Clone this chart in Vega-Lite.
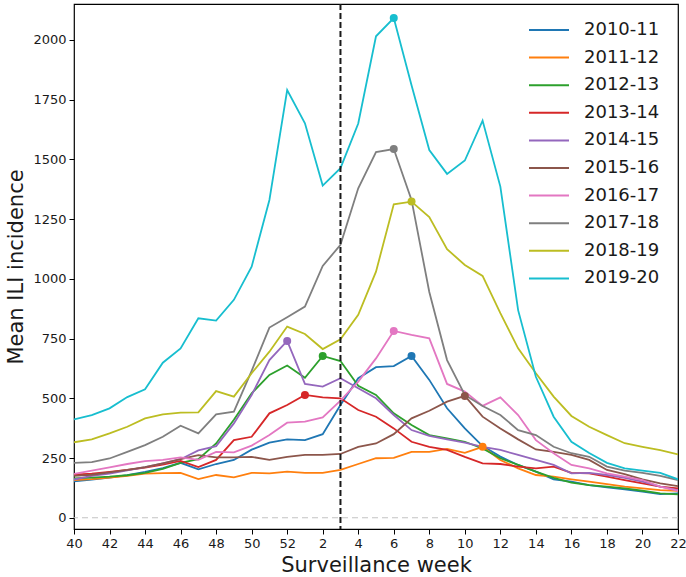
{
  "$schema": "https://vega.github.io/schema/vega-lite/v6.json",
  "width": 604,
  "height": 525,
  "autosize": {"type": "none"},
  "padding": {"left": 74, "top": 4, "right": 8, "bottom": 48},
  "background": "white",
  "config": {
    "font": "DejaVu Sans",
    "view": {"stroke": "black", "strokeWidth": 1.2},
    "axis": {"grid": false, "domain": false, "tickColor": "black", "tickSize": 5, "tickWidth": 1, "labelColor": "#1a1a1a", "labelFontSize": 13, "labelFont": "DejaVu Sans", "titleFont": "DejaVu Sans", "titleFontSize": 21, "titleFontWeight": "normal", "titleColor": "#1a1a1a", "labelPadding": 3, "labelOverlap": false, "labelFlush": false}
  },
  "datasets": {
    "ili": [
      {"s":"2010-11","t":0,"v":152},{"s":"2010-11","t":1,"v":160},{"s":"2010-11","t":2,"v":168},{"s":"2010-11","t":3,"v":178},{"s":"2010-11","t":4,"v":192},{"s":"2010-11","t":5,"v":208},{"s":"2010-11","t":6,"v":230},{"s":"2010-11","t":7,"v":203},{"s":"2010-11","t":8,"v":225},{"s":"2010-11","t":9,"v":242},{"s":"2010-11","t":10,"v":285},{"s":"2010-11","t":11,"v":314},{"s":"2010-11","t":12,"v":328},{"s":"2010-11","t":13,"v":325},{"s":"2010-11","t":14,"v":350},{"s":"2010-11","t":15,"v":472},{"s":"2010-11","t":16,"v":584},{"s":"2010-11","t":17,"v":630},{"s":"2010-11","t":18,"v":635},{"s":"2010-11","t":19,"v":677},{"s":"2010-11","t":20,"v":577},{"s":"2010-11","t":21,"v":458},{"s":"2010-11","t":22,"v":374},{"s":"2010-11","t":23,"v":300},{"s":"2010-11","t":24,"v":256},{"s":"2010-11","t":25,"v":221},{"s":"2010-11","t":26,"v":193},{"s":"2010-11","t":27,"v":161},{"s":"2010-11","t":28,"v":151},{"s":"2010-11","t":29,"v":137},{"s":"2010-11","t":30,"v":127},{"s":"2010-11","t":31,"v":119},{"s":"2010-11","t":32,"v":109},{"s":"2010-11","t":33,"v":99},{"s":"2010-11","t":34,"v":102},
      {"s":"2011-12","t":0,"v":158},{"s":"2011-12","t":1,"v":162},{"s":"2011-12","t":2,"v":168},{"s":"2011-12","t":3,"v":175},{"s":"2011-12","t":4,"v":185},{"s":"2011-12","t":5,"v":187},{"s":"2011-12","t":6,"v":188},{"s":"2011-12","t":7,"v":162},{"s":"2011-12","t":8,"v":179},{"s":"2011-12","t":9,"v":169},{"s":"2011-12","t":10,"v":188},{"s":"2011-12","t":11,"v":186},{"s":"2011-12","t":12,"v":193},{"s":"2011-12","t":13,"v":188},{"s":"2011-12","t":14,"v":188},{"s":"2011-12","t":15,"v":200},{"s":"2011-12","t":16,"v":225},{"s":"2011-12","t":17,"v":249},{"s":"2011-12","t":18,"v":251},{"s":"2011-12","t":19,"v":276},{"s":"2011-12","t":20,"v":276},{"s":"2011-12","t":21,"v":288},{"s":"2011-12","t":22,"v":272},{"s":"2011-12","t":23,"v":297},{"s":"2011-12","t":24,"v":242},{"s":"2011-12","t":25,"v":207},{"s":"2011-12","t":26,"v":179},{"s":"2011-12","t":27,"v":172},{"s":"2011-12","t":28,"v":161},{"s":"2011-12","t":29,"v":151},{"s":"2011-12","t":30,"v":141},{"s":"2011-12","t":31,"v":130},{"s":"2011-12","t":32,"v":123},{"s":"2011-12","t":33,"v":116},{"s":"2011-12","t":34,"v":113},
      {"s":"2012-13","t":0,"v":165},{"s":"2012-13","t":1,"v":168},{"s":"2012-13","t":2,"v":172},{"s":"2012-13","t":3,"v":178},{"s":"2012-13","t":4,"v":188},{"s":"2012-13","t":5,"v":205},{"s":"2012-13","t":6,"v":230},{"s":"2012-13","t":7,"v":245},{"s":"2012-13","t":8,"v":311},{"s":"2012-13","t":9,"v":410},{"s":"2012-13","t":10,"v":521},{"s":"2012-13","t":11,"v":598},{"s":"2012-13","t":12,"v":637},{"s":"2012-13","t":13,"v":586},{"s":"2012-13","t":14,"v":677},{"s":"2012-13","t":15,"v":656},{"s":"2012-13","t":16,"v":552},{"s":"2012-13","t":17,"v":514},{"s":"2012-13","t":18,"v":437},{"s":"2012-13","t":19,"v":388},{"s":"2012-13","t":20,"v":346},{"s":"2012-13","t":21,"v":332},{"s":"2012-13","t":22,"v":318},{"s":"2012-13","t":23,"v":290},{"s":"2012-13","t":24,"v":249},{"s":"2012-13","t":25,"v":221},{"s":"2012-13","t":26,"v":193},{"s":"2012-13","t":27,"v":167},{"s":"2012-13","t":28,"v":147},{"s":"2012-13","t":29,"v":137},{"s":"2012-13","t":30,"v":130},{"s":"2012-13","t":31,"v":123},{"s":"2012-13","t":32,"v":113},{"s":"2012-13","t":33,"v":102},{"s":"2012-13","t":34,"v":98},
      {"s":"2013-14","t":0,"v":180},{"s":"2013-14","t":1,"v":185},{"s":"2013-14","t":2,"v":192},{"s":"2013-14","t":3,"v":200},{"s":"2013-14","t":4,"v":210},{"s":"2013-14","t":5,"v":222},{"s":"2013-14","t":6,"v":238},{"s":"2013-14","t":7,"v":212},{"s":"2013-14","t":8,"v":242},{"s":"2013-14","t":9,"v":325},{"s":"2013-14","t":10,"v":339},{"s":"2013-14","t":11,"v":437},{"s":"2013-14","t":12,"v":472},{"s":"2013-14","t":13,"v":514},{"s":"2013-14","t":14,"v":504},{"s":"2013-14","t":15,"v":500},{"s":"2013-14","t":16,"v":451},{"s":"2013-14","t":17,"v":423},{"s":"2013-14","t":18,"v":374},{"s":"2013-14","t":19,"v":318},{"s":"2013-14","t":20,"v":297},{"s":"2013-14","t":21,"v":284},{"s":"2013-14","t":22,"v":255},{"s":"2013-14","t":23,"v":228},{"s":"2013-14","t":24,"v":225},{"s":"2013-14","t":25,"v":214},{"s":"2013-14","t":26,"v":207},{"s":"2013-14","t":27,"v":214},{"s":"2013-14","t":28,"v":188},{"s":"2013-14","t":29,"v":186},{"s":"2013-14","t":30,"v":172},{"s":"2013-14","t":31,"v":158},{"s":"2013-14","t":32,"v":144},{"s":"2013-14","t":33,"v":130},{"s":"2013-14","t":34,"v":123},
      {"s":"2014-15","t":0,"v":160},{"s":"2014-15","t":1,"v":175},{"s":"2014-15","t":2,"v":185},{"s":"2014-15","t":3,"v":198},{"s":"2014-15","t":4,"v":212},{"s":"2014-15","t":5,"v":228},{"s":"2014-15","t":6,"v":245},{"s":"2014-15","t":7,"v":282},{"s":"2014-15","t":8,"v":300},{"s":"2014-15","t":9,"v":395},{"s":"2014-15","t":10,"v":514},{"s":"2014-15","t":11,"v":660},{"s":"2014-15","t":12,"v":740},{"s":"2014-15","t":13,"v":560},{"s":"2014-15","t":14,"v":549},{"s":"2014-15","t":15,"v":584},{"s":"2014-15","t":16,"v":542},{"s":"2014-15","t":17,"v":500},{"s":"2014-15","t":18,"v":430},{"s":"2014-15","t":19,"v":367},{"s":"2014-15","t":20,"v":343},{"s":"2014-15","t":21,"v":328},{"s":"2014-15","t":22,"v":314},{"s":"2014-15","t":23,"v":297},{"s":"2014-15","t":24,"v":284},{"s":"2014-15","t":25,"v":263},{"s":"2014-15","t":26,"v":242},{"s":"2014-15","t":27,"v":221},{"s":"2014-15","t":28,"v":186},{"s":"2014-15","t":29,"v":188},{"s":"2014-15","t":30,"v":179},{"s":"2014-15","t":31,"v":167},{"s":"2014-15","t":32,"v":151},{"s":"2014-15","t":33,"v":130},{"s":"2014-15","t":34,"v":116},
      {"s":"2015-16","t":0,"v":175},{"s":"2015-16","t":1,"v":180},{"s":"2015-16","t":2,"v":190},{"s":"2015-16","t":3,"v":200},{"s":"2015-16","t":4,"v":212},{"s":"2015-16","t":5,"v":228},{"s":"2015-16","t":6,"v":245},{"s":"2015-16","t":7,"v":262},{"s":"2015-16","t":8,"v":253},{"s":"2015-16","t":9,"v":253},{"s":"2015-16","t":10,"v":255},{"s":"2015-16","t":11,"v":242},{"s":"2015-16","t":12,"v":255},{"s":"2015-16","t":13,"v":263},{"s":"2015-16","t":14,"v":263},{"s":"2015-16","t":15,"v":267},{"s":"2015-16","t":16,"v":297},{"s":"2015-16","t":17,"v":311},{"s":"2015-16","t":18,"v":350},{"s":"2015-16","t":19,"v":416},{"s":"2015-16","t":20,"v":448},{"s":"2015-16","t":21,"v":486},{"s":"2015-16","t":22,"v":510},{"s":"2015-16","t":23,"v":423},{"s":"2015-16","t":24,"v":374},{"s":"2015-16","t":25,"v":328},{"s":"2015-16","t":26,"v":286},{"s":"2015-16","t":27,"v":276},{"s":"2015-16","t":28,"v":263},{"s":"2015-16","t":29,"v":242},{"s":"2015-16","t":30,"v":200},{"s":"2015-16","t":31,"v":183},{"s":"2015-16","t":32,"v":161},{"s":"2015-16","t":33,"v":144},{"s":"2015-16","t":34,"v":132},
      {"s":"2016-17","t":0,"v":184},{"s":"2016-17","t":1,"v":197},{"s":"2016-17","t":2,"v":211},{"s":"2016-17","t":3,"v":225},{"s":"2016-17","t":4,"v":237},{"s":"2016-17","t":5,"v":242},{"s":"2016-17","t":6,"v":253},{"s":"2016-17","t":7,"v":242},{"s":"2016-17","t":8,"v":276},{"s":"2016-17","t":9,"v":274},{"s":"2016-17","t":10,"v":302},{"s":"2016-17","t":11,"v":346},{"s":"2016-17","t":12,"v":398},{"s":"2016-17","t":13,"v":402},{"s":"2016-17","t":14,"v":420},{"s":"2016-17","t":15,"v":490},{"s":"2016-17","t":16,"v":570},{"s":"2016-17","t":17,"v":667},{"s":"2016-17","t":18,"v":782},{"s":"2016-17","t":19,"v":765},{"s":"2016-17","t":20,"v":751},{"s":"2016-17","t":21,"v":560},{"s":"2016-17","t":22,"v":528},{"s":"2016-17","t":23,"v":468},{"s":"2016-17","t":24,"v":504},{"s":"2016-17","t":25,"v":430},{"s":"2016-17","t":26,"v":325},{"s":"2016-17","t":27,"v":270},{"s":"2016-17","t":28,"v":221},{"s":"2016-17","t":29,"v":207},{"s":"2016-17","t":30,"v":186},{"s":"2016-17","t":31,"v":172},{"s":"2016-17","t":32,"v":158},{"s":"2016-17","t":33,"v":130},{"s":"2016-17","t":34,"v":113},
      {"s":"2017-18","t":0,"v":230},{"s":"2017-18","t":1,"v":233},{"s":"2017-18","t":2,"v":248},{"s":"2017-18","t":3,"v":276},{"s":"2017-18","t":4,"v":304},{"s":"2017-18","t":5,"v":339},{"s":"2017-18","t":6,"v":385},{"s":"2017-18","t":7,"v":353},{"s":"2017-18","t":8,"v":433},{"s":"2017-18","t":9,"v":444},{"s":"2017-18","t":10,"v":615},{"s":"2017-18","t":11,"v":796},{"s":"2017-18","t":12,"v":839},{"s":"2017-18","t":13,"v":884},{"s":"2017-18","t":14,"v":1054},{"s":"2017-18","t":15,"v":1142},{"s":"2017-18","t":16,"v":1379},{"s":"2017-18","t":17,"v":1530},{"s":"2017-18","t":18,"v":1543},{"s":"2017-18","t":19,"v":1330},{"s":"2017-18","t":20,"v":945},{"s":"2017-18","t":21,"v":660},{"s":"2017-18","t":22,"v":514},{"s":"2017-18","t":23,"v":468},{"s":"2017-18","t":24,"v":430},{"s":"2017-18","t":25,"v":367},{"s":"2017-18","t":26,"v":346},{"s":"2017-18","t":27,"v":297},{"s":"2017-18","t":28,"v":270},{"s":"2017-18","t":29,"v":255},{"s":"2017-18","t":30,"v":214},{"s":"2017-18","t":31,"v":197},{"s":"2017-18","t":32,"v":188},{"s":"2017-18","t":33,"v":175},{"s":"2017-18","t":34,"v":158},
      {"s":"2018-19","t":0,"v":316},{"s":"2018-19","t":1,"v":328},{"s":"2018-19","t":2,"v":353},{"s":"2018-19","t":3,"v":381},{"s":"2018-19","t":4,"v":416},{"s":"2018-19","t":5,"v":433},{"s":"2018-19","t":6,"v":440},{"s":"2018-19","t":7,"v":441},{"s":"2018-19","t":8,"v":530},{"s":"2018-19","t":9,"v":507},{"s":"2018-19","t":10,"v":605},{"s":"2018-19","t":11,"v":695},{"s":"2018-19","t":12,"v":800},{"s":"2018-19","t":13,"v":769},{"s":"2018-19","t":14,"v":706},{"s":"2018-19","t":15,"v":747},{"s":"2018-19","t":16,"v":849},{"s":"2018-19","t":17,"v":1030},{"s":"2018-19","t":18,"v":1312},{"s":"2018-19","t":19,"v":1323},{"s":"2018-19","t":20,"v":1258},{"s":"2018-19","t":21,"v":1124},{"s":"2018-19","t":22,"v":1058},{"s":"2018-19","t":23,"v":1012},{"s":"2018-19","t":24,"v":856},{"s":"2018-19","t":25,"v":709},{"s":"2018-19","t":26,"v":605},{"s":"2018-19","t":27,"v":507},{"s":"2018-19","t":28,"v":426},{"s":"2018-19","t":29,"v":381},{"s":"2018-19","t":30,"v":346},{"s":"2018-19","t":31,"v":312},{"s":"2018-19","t":32,"v":297},{"s":"2018-19","t":33,"v":283},{"s":"2018-19","t":34,"v":265},
      {"s":"2019-20","t":0,"v":412},{"s":"2019-20","t":1,"v":430},{"s":"2019-20","t":2,"v":458},{"s":"2019-20","t":3,"v":505},{"s":"2019-20","t":4,"v":538},{"s":"2019-20","t":5,"v":649},{"s":"2019-20","t":6,"v":709},{"s":"2019-20","t":7,"v":835},{"s":"2019-20","t":8,"v":825},{"s":"2019-20","t":9,"v":912},{"s":"2019-20","t":10,"v":1051},{"s":"2019-20","t":11,"v":1330},{"s":"2019-20","t":12,"v":1790},{"s":"2019-20","t":13,"v":1651},{"s":"2019-20","t":14,"v":1390},{"s":"2019-20","t":15,"v":1463},{"s":"2019-20","t":16,"v":1650},{"s":"2019-20","t":17,"v":2015},{"s":"2019-20","t":18,"v":2091},{"s":"2019-20","t":19,"v":1810},{"s":"2019-20","t":20,"v":1539},{"s":"2019-20","t":21,"v":1439},{"s":"2019-20","t":22,"v":1495},{"s":"2019-20","t":23,"v":1662},{"s":"2019-20","t":24,"v":1386},{"s":"2019-20","t":25,"v":869},{"s":"2019-20","t":26,"v":590},{"s":"2019-20","t":27,"v":423},{"s":"2019-20","t":28,"v":318},{"s":"2019-20","t":29,"v":271},{"s":"2019-20","t":30,"v":230},{"s":"2019-20","t":31,"v":207},{"s":"2019-20","t":32,"v":197},{"s":"2019-20","t":33,"v":188},{"s":"2019-20","t":34,"v":161}
    ]
  },
  "layer": [
    {
      "data": {"values": [{"v": 0}]},
      "mark": {"type": "rule", "color": "#c4c4c4", "strokeWidth": 1.2, "strokeDash": [6, 4]},
      "encoding": {"y": {"field": "v", "type": "quantitative", "scale": {"domain": [-47, 2150], "nice": false, "zero": false},
              "axis": {"title": "Mean ILI incidence", "values": [0,250,500,750,1000,1250,1500,1750,2000], "format": "d", "titlePadding": 6}}}
    },
    {
      "data": {"name": "ili"},
      "mark": {"type": "line", "strokeWidth": 1.8, "clip": true},
      "encoding": {
        "x": {"field": "t", "type": "quantitative", "scale": {"domain": [0, 34], "nice": false, "zero": false},
              "axis": {"title": "Surveillance week", "values": [0,2,4,6,8,10,12,14,16,18,20,22,24,26,28,30,32,34], "labelExpr": "datum.value <= 12 ? datum.value + 40 : datum.value - 12", "titlePadding": 4, "labelOverlap": false, "tickCount": 18}},
        "y": {"field": "v", "type": "quantitative", "scale": {"domain": [-47, 2150], "nice": false, "zero": false},
              "axis": {"title": "Mean ILI incidence", "values": [0,250,500,750,1000,1250,1500,1750,2000], "format": "d", "titlePadding": 6}},
        "color": {"field": "s", "type": "nominal", "title": null,
                  "scale": {"domain": ["2010-11","2011-12","2012-13","2013-14","2014-15","2015-16","2016-17","2017-18","2018-19","2019-20"],
                            "range": ["#1f77b4","#ff7f0e","#2ca02c","#d62728","#9467bd","#8c564b","#e377c2","#7f7f7f","#bcbd22","#17becf"]},
                  "legend": {"orient": "none", "legendX": 454, "legendY": 16, "padding": 0, "symbolType": "stroke", "symbolSize": 1600, "symbolStrokeWidth": 2, "clipHeight": 20, "rowPadding": 7.6, "labelFontSize": 18, "labelFont": "DejaVu Sans", "labelColor": "#1a1a1a", "labelOffset": 14, "labelLimit": 200}}
      }
    },
    {
      "data": {"name": "ili"},
      "transform": [
        {"joinaggregate": [{"op": "max", "field": "v", "as": "peak"}], "groupby": ["s"]},
        {"filter": "datum.v == datum.peak"}
      ],
      "mark": {"type": "circle", "size": 64, "opacity": 1},
      "encoding": {
        "x": {"field": "t", "type": "quantitative",
              "axis": {"title": "Surveillance week", "values": [0,2,4,6,8,10,12,14,16,18,20,22,24,26,28,30,32,34], "labelExpr": "datum.value <= 12 ? datum.value + 40 : datum.value - 12", "titlePadding": 4, "labelOverlap": false, "tickCount": 18}},
        "y": {"field": "v", "type": "quantitative",
              "axis": {"title": "Mean ILI incidence", "values": [0,250,500,750,1000,1250,1500,1750,2000], "format": "d", "titlePadding": 6}},
        "color": {"field": "s", "type": "nominal", "legend": null}
      }
    },
    {
      "data": {"values": [{"t": 15}]},
      "mark": {"type": "rule", "color": "#1a1a1a", "strokeWidth": 2, "strokeDash": [6, 3]},
      "encoding": {"x": {"field": "t", "type": "quantitative",
              "axis": {"title": "Surveillance week", "values": [0,2,4,6,8,10,12,14,16,18,20,22,24,26,28,30,32,34], "labelExpr": "datum.value <= 12 ? datum.value + 40 : datum.value - 12", "titlePadding": 4, "labelOverlap": false, "tickCount": 18}}}
    }
  ]
}
